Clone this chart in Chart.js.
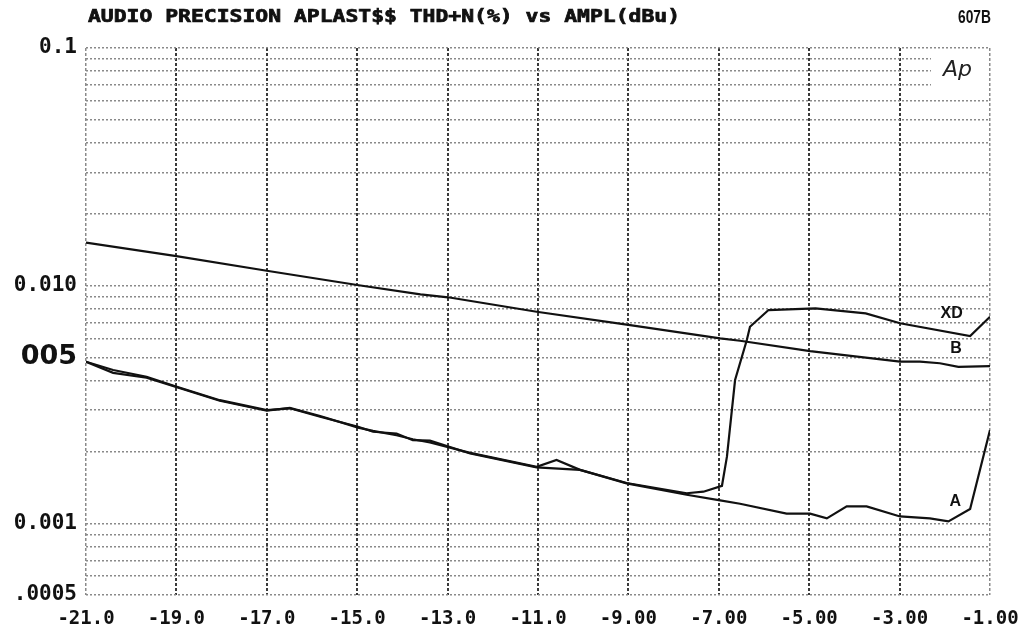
<!DOCTYPE html>
<html>
<head>
<meta charset="utf-8">
<script src="https://cdn.jsdelivr.net/npm/chart.js@4/dist/chart.umd.min.js"></script>
<style>
  html, body { margin: 0; padding: 0; background: #ffffff; }
  #wrap { width: 1021px; height: 635px; }
</style>
</head>
<body>
<div id="wrap"><canvas id="c" width="1021" height="635"></canvas></div>
<script>
// ---- data ----
const titleText = "AUDIO PRECISION APLAST$$ THD+N(%) vs AMPL(dBu)";
const cornerText = "607B";

const xTicks = [-21, -19, -17, -15, -13, -11, -9, -7, -5, -3, -1];
const xTickLabels = ["-21.0", "-19.0", "-17.0", "-15.0", "-13.0", "-11.0", "-9.00", "-7.00", "-5.00", "-3.00", "-1.00"];

const yGrid = [0.0005, 0.0006, 0.0007, 0.0008, 0.0009,
               0.001, 0.002, 0.003, 0.004, 0.005, 0.006, 0.007, 0.008, 0.009,
               0.01, 0.02, 0.03, 0.04, 0.05, 0.06, 0.07, 0.08, 0.09, 0.1];
const yLabelValues = [0.1, 0.01, 0.005, 0.001, 0.0005];
const yLabelTexts = ["0.1", "0.010", "005", "0.001", ".0005"];

const aX = [-21.0, -20.4, -19.66, -18.99, -18.04, -17.0, -16.49, -15.82, -14.98, -14.65, -14.13, -13.77, -13.39, -12.5, -11.03, -10.07, -9.04, -7.71, -6.97, -6.53, -5.5, -4.98, -4.61, -4.17, -3.73, -2.99, -2.33, -1.92, -1.44, -1.0];
const aY = [0.00479, 0.00442, 0.00414, 0.00376, 0.00330, 0.00300, 0.00305, 0.00281, 0.00255, 0.00243, 0.00239, 0.00224, 0.00223, 0.00197, 0.00172, 0.00168, 0.001475, 0.00132, 0.00125, 0.00121, 0.00110, 0.00110, 0.00105, 0.00118, 0.00118, 0.00107, 0.00105, 0.00102, 0.00115, 0.00247];

const xdX = [-21.0, -20.4, -19.66, -18.99, -18.04, -17.0, -16.49, -15.82, -14.98, -14.65, -14.13, -13.77, -13.39, -12.5, -11.03, -10.59, -10.07, -9.04, -7.71, -7.34, -6.93, -6.82, -6.64, -6.38, -6.31, -5.90, -4.86, -3.75, -2.99, -1.44, -1.0];
const xdY = [0.00479, 0.00430, 0.00410, 0.00374, 0.00328, 0.00298, 0.00306, 0.00283, 0.00253, 0.00245, 0.00235, 0.00226, 0.00219, 0.00198, 0.00173, 0.00185, 0.00168, 0.00148, 0.00134, 0.00136, 0.00144, 0.00191, 0.00401, 0.00591, 0.00672, 0.00790, 0.00803, 0.00765, 0.00695, 0.00614, 0.00741];

const bX = [-21.0, -19.0, -17.0, -15.0, -13.6, -12.99, -11.03, -9.0, -6.97, -6.53, -4.98, -2.99, -2.55, -2.11, -1.7, -1.0];
const bY = [0.01517, 0.01333, 0.01156, 0.01007, 0.00920, 0.00894, 0.00777, 0.00684, 0.00601, 0.00587, 0.00531, 0.00479, 0.00479, 0.00472, 0.00456, 0.00459];

const curveNames = ["XD", "B", "A"];
const curveLabelAt = [[-1.85, 0.00760], [-1.75, 0.00545], [-1.77, 0.00124]];

// ---- helpers ----
const toPts = (xs, ys) => xs.map((x, i) => ({ x: x, y: ys[i] }));
const yLabelFor = v => {
  for (let i = 0; i < yLabelValues.length; i++) {
    if (Math.abs(v - yLabelValues[i]) < 1e-9) return yLabelTexts[i];
  }
  return "";
};

const decorPlugin = {
  id: "decor",
  beforeDatasetsDraw(chart) {
    const ctx = chart.ctx;
    const area = chart.chartArea;
    ctx.save();
    ctx.fillStyle = "#ffffff";
    ctx.fillRect(931, area.top + 3, area.right - 933, 35);
    ctx.restore();
  },
  afterDraw(chart) {
    const ctx = chart.ctx;
    const xs = chart.scales.x, ys = chart.scales.y;
    ctx.save();
    // title (stretched bitmap-like mono font)
    ctx.fillStyle = "#111";
    ctx.strokeStyle = "#111";
    ctx.lineWidth = 0.7;
    ctx.font = 'bold 17px "DejaVu Sans Mono"';
    ctx.textBaseline = "middle";
    ctx.textAlign = "left";
    const w = ctx.measureText(titleText).width;
    ctx.save();
    ctx.translate(88, 18);
    ctx.scale(592 / w, 1);
    ctx.fillText(titleText, 0, 0);
    ctx.strokeText(titleText, 0, 0);
    ctx.restore();
    // corner id
    ctx.font = 'bold 18px "Liberation Sans"';
    const w2 = ctx.measureText(cornerText).width;
    ctx.save();
    ctx.translate(958, 18);
    ctx.scale(33 / w2, 1);
    ctx.fillText(cornerText, 0, 0);
    ctx.restore();
    // Ap logo
    ctx.font = 'italic 22px "DejaVu Sans"';
    ctx.textAlign = "left";
    ctx.textBaseline = "alphabetic";
    ctx.fillStyle = "#222";
    ctx.fillText("Ap", 943, 76);
    // curve labels
    ctx.font = 'bold 16px "Liberation Sans"';
    ctx.textAlign = "center";
    ctx.textBaseline = "middle";
    ctx.fillStyle = "#111";
    curveNames.forEach((n, i) => {
      ctx.fillText(n, xs.getPixelForValue(curveLabelAt[i][0]), ys.getPixelForValue(curveLabelAt[i][1]));
    });
    ctx.restore();
  }
};

const lineStyle = {
  borderColor: "#111",
  borderWidth: 2.2,
  pointRadius: 0,
  tension: 0,
  fill: false
};

new Chart(document.getElementById("c"), {
  type: "line",
  data: {
    datasets: [
      Object.assign({ label: "XD", data: toPts(xdX, xdY) }, lineStyle),
      Object.assign({ label: "B", data: toPts(bX, bY) }, lineStyle),
      Object.assign({ label: "A", data: toPts(aX, aY) }, lineStyle)
    ]
  },
  options: {
    responsive: false,
    animation: false,
    devicePixelRatio: 1,
    layout: { padding: { top: 48, right: 31, left: 0, bottom: 0 } },
    plugins: {
      legend: { display: false },
      title: { display: false },
      tooltip: { enabled: false }
    },
    scales: {
      x: {
        type: "linear",
        min: -21,
        max: -1,
        afterBuildTicks: s => { s.ticks = xTicks.map(v => ({ value: v })); },
        afterFit: s => { s.height = 40; s.paddingLeft = 0; s.paddingRight = 0; },
        ticks: {
          autoSkip: false,
          maxRotation: 0,
          padding: 13,
          color: "#111",
          font: { family: "DejaVu Sans Mono", size: 19, weight: "bold" },
          callback: v => { const i = xTicks.indexOf(v); return i >= 0 ? xTickLabels[i] : ""; }
        },
        grid: {
          drawTicks: false,
          color: c => (c.index === 0 || c.index === xTicks.length - 1) ? "#8a8a8a" : "#3a3a3a",
          lineWidth: c => (c.index === 0 || c.index === xTicks.length - 1) ? 1.5 : 2
        },
        border: { display: false, dash: [3, 2] }
      },
      y: {
        type: "logarithmic",
        min: 0.0005,
        max: 0.1,
        afterBuildTicks: s => { s.ticks = yGrid.map(v => ({ value: v })); },
        afterFit: s => { s.width = 86; s.paddingTop = 0; s.paddingBottom = 0; },
        ticks: {
          autoSkip: false,
          padding: 9,
          color: "#111",
          font: c => (c.tick && Math.abs(c.tick.value - 0.005) < 1e-9)
            ? { family: "DejaVu Sans", size: 27, weight: "bold" }
            : { family: "DejaVu Sans Mono", size: 21, weight: "bold" },
          callback: v => yLabelFor(v)
        },
        grid: {
          drawTicks: false,
          color: "#8a8a8a",
          lineWidth: 1.5
        },
        border: { display: false, dash: [2, 2] }
      }
    }
  },
  plugins: [decorPlugin]
});
</script>
</body>
</html>
